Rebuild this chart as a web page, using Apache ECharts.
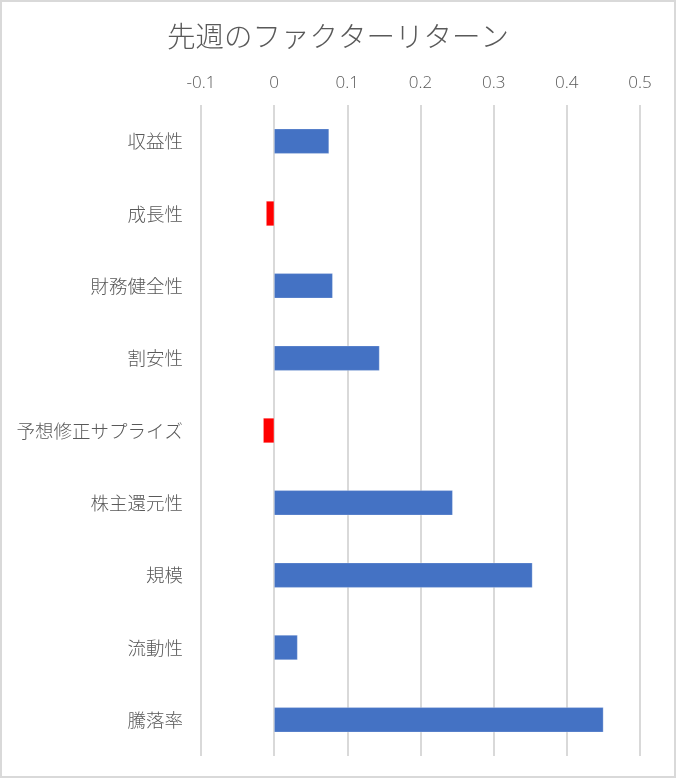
<!DOCTYPE html>
<html>
<head>
<meta charset="utf-8">
<script src="https://cdn.jsdelivr.net/npm/echarts@6/dist/echarts.min.js"></script>
<style>
  html, body { margin: 0; padding: 0; background: #fff; }
  #wrap { position: relative; width: 676px; height: 778px; }
  #chart { position: absolute; left: 0; top: 0; width: 676px; height: 778px; }
  #frame { position: absolute; left: 0; top: 0; width: 676px; height: 778px;
           box-sizing: border-box; border: 2px solid #d9d9d9; pointer-events: none; }
</style>
</head>
<body>
<div id="wrap">
  <div id="chart"></div>
  <div id="frame"></div>
</div>
<script>
// ファクター名
var categories = ['収益性', '成長性', '財務健全性', '割安性', '予想修正サプライズ', '株主還元性', '規模', '流動性', '騰落率'];
// 先週のリターン
var returns = [0.075, -0.011, 0.080, 0.144, -0.015, 0.244, 0.353, 0.032, 0.450];

var font = '"Noto Sans CJK JP", "Noto Sans", sans-serif';

var myChart = echarts.init(document.getElementById('chart'));
myChart.setOption({
  animation: false,
  title: {
    text: '先週のファクターリターン',
    left: 'center',
    top: 17,
    textStyle: { fontFamily: font, fontSize: 28.5, fontWeight: 300, color: '#595959' }
  },
  grid: { left: 201, right: 36, top: 105, bottom: 22 },
  xAxis: {
    type: 'value',
    position: 'top',
    min: -0.1,
    max: 0.5,
    interval: 0.1,
    axisLine: { show: false },
    axisTick: { show: false },
    axisLabel: {
      margin: 13,
      fontFamily: '"Open Sans", sans-serif',
      fontSize: 17,
      fontWeight: 300,
      color: '#595959',
      formatter: function (v) { return String(Math.round(v * 10) / 10); }
    },
    splitLine: { lineStyle: { color: '#d9d9d9', width: 2 } }
  },
  yAxis: {
    type: 'category',
    data: categories,
    inverse: true,
    axisLine: { show: false },
    axisTick: { show: false },
    axisLabel: { margin: 18, fontFamily: font, fontSize: 18.5, fontWeight: 300, color: '#595959' }
  },
  series: [{
    type: 'bar',
    data: returns,
    barWidth: 25,
    itemStyle: {
      color: function (p) { return p.value < 0 ? '#ff0000' : '#4472c4'; },
      borderColor: 'rgba(255,255,255,0.5)',
      borderWidth: 0.5
    }
  }]
});
</script>
</body>
</html>
